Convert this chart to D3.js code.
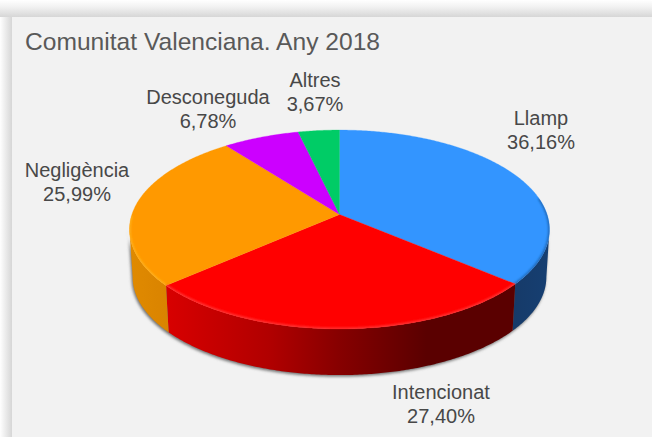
<!DOCTYPE html>
<html><head><meta charset="utf-8">
<script src="https://cdnjs.cloudflare.com/ajax/libs/d3/7.9.0/d3.min.js"></script>
<style>html,body{margin:0;padding:0;background:#fff;overflow:hidden}svg{display:block}</style>
</head><body><svg id="c" width="652" height="437"></svg>
<script>
const categories = ["Llamp","Intencionat","Negligència","Desconeguda","Altres"];
const values = [36.16,27.40,25.99,6.78,3.67];
const valueLabels = ["36,16%","27,40%","25,99%","6,78%","3,67%"];
const topColors = ["#3395ff","#ff0000","#ff9900","#cc00ff","#00cc66"];
const titleText = "Comunitat Valenciana. Any 2018";
const labelCenters = [[541,125],[441,399],[77,177],[208,104],[315,87]];

const W=652,H=437,panelX=12,panelY=17;
const svg=d3.select("#c");
const defs=svg.append("defs");
function grad(id,attrs,stops){
  const g=defs.append("linearGradient").attr("id",id);
  Object.entries(attrs).forEach(([k,v])=>g.attr(k,v));
  stops.forEach(s=>g.append("stop").attr("offset",s[0]).attr("stop-color",s[1]));
}
grad("frameL",{x1:0,x2:1,y1:0,y2:0},[[0,"#ffffff"],[0.35,"#f0f0f0"],[1,"#d6d6d6"]]);
grad("frameT",{x1:0,x2:0,y1:0,y2:1},[[0,"#ffffff"],[0.4,"#f2f2f2"],[1,"#d6d6d6"]]);
grad("sideRed",{gradientUnits:"userSpaceOnUse",x1:167,x2:513,y1:0,y2:0},
  [[0,"#d80000"],[0.3,"#b00000"],[0.5,"#860000"],[0.75,"#5a0000"],[1,"#5a0000"]]);
grad("sideOrange",{gradientUnits:"userSpaceOnUse",x1:130,x2:170,y1:0,y2:0},
  [[0,"#e08a00"],[1,"#d98300"]]);
grad("sideBlue",{gradientUnits:"userSpaceOnUse",x1:510,x2:550,y1:0,y2:0},
  [[0,"#163a68"],[1,"#163f72"]]);
defs.append("filter").attr("id","shadow").attr("x","-10%").attr("y","-10%").attr("width","120%").attr("height","120%")
  .append("feGaussianBlur").attr("stdDeviation",1.6);
defs.append("filter").attr("id","rim").attr("x","-10%").attr("y","-10%").attr("width","120%").attr("height","120%")
  .append("feGaussianBlur").attr("stdDeviation",1.3);

// frame and panel
svg.append("rect").attr("width",W).attr("height",H).attr("fill","#fff");
svg.append("rect").attr("x",0).attr("y",0).attr("width",W).attr("height",panelY).attr("fill","url(#frameT)");
svg.append("rect").attr("x",0).attr("y",panelY).attr("width",panelX).attr("height",H-panelY).attr("fill","url(#frameL)");
svg.append("rect").attr("x",panelX).attr("y",panelY).attr("width",W-panelX).attr("height",H-panelY).attr("fill","#f2f2f2");

// perspective projection of the unit disc on to the page
const k=0.151, cx=339.5, A=207.6, B=97.2, topY=214.5, botY=262.3, botScale=0.985;
const project=(a,y0,s)=>{
  const u=Math.sin(a), v=-Math.cos(a), w=1-k*v;
  return [cx+s*A*u/w, y0+s*B*v/w];
};
const pie=d3.pie().sort(null).startAngle(0).endAngle(2*Math.PI);
const arcs=pie(values);
const line=d3.line();
const samples=(a,b)=>{
  const n=Math.max(2,Math.ceil((b-a)/0.01));
  return d3.range(n+1).map(i=>a+(b-a)*i/n);
};
const rimPts=(a,b,y0,s)=>samples(a,b).map(t=>project(t,y0,s));

// visible wall runs between the two silhouette tangents of the disc
const tanR=Math.acos(-k), tanL=2*Math.PI-tanR;
const wallPath=(a,b)=>{
  const s=Math.max(a,tanR), e=Math.min(b,tanL);
  return line([...rimPts(s,e,topY,1),...rimPts(s,e,botY,botScale).reverse()])+"Z";
};

// drop shadow under the base
svg.append("path").attr("d",wallPath(0,2*Math.PI)).attr("fill","#6e6e6e")
  .attr("transform","translate(-1,1.5)").attr("filter","url(#shadow)");

// side walls
const sideFills=["url(#sideBlue)","url(#sideRed)","url(#sideOrange)",null,null];
svg.append("g").selectAll("path").data(arcs.filter((d,i)=>sideFills[i])).join("path")
  .attr("d",d=>wallPath(d.startAngle,d.endAngle))
  .attr("fill",d=>sideFills[d.index]);

// top face
const apex=[cx,topY];
svg.append("g").selectAll("path").data(arcs).join("path")
  .attr("d",d=>line([apex,...rimPts(d.startAngle,d.endAngle,topY,1)])+"Z")
  .attr("fill",d=>topColors[d.index]).attr("stroke",d=>topColors[d.index]).attr("stroke-width",0.3);

// soft bevel along the front of the rim
defs.append("clipPath").attr("id","topClip").append("path").attr("d",line(rimPts(0,2*Math.PI,topY,1))+"Z");
const rimColors=["#1f62ad","#ff3a3a","#ffb21a",null,null];
const rimStart=[1.4,0,0], rimEnd=[9,9,4.7];
const rimG=svg.append("g").attr("clip-path","url(#topClip)");
rimG.selectAll("path").data(arcs.filter((d,i)=>rimColors[i])).join("path")
  .attr("d",d=>line(rimPts(Math.max(d.startAngle,rimStart[d.index]),Math.min(d.endAngle,rimEnd[d.index]),topY,1)))
  .attr("fill","none").attr("stroke",d=>rimColors[d.index]).attr("stroke-width",2.4)
  .attr("filter","url(#rim)");

// text
const font="'Liberation Sans', sans-serif";
svg.append("text").attr("x",25).attr("y",50).attr("font-family",font).attr("font-size",24.6)
  .attr("fill","#595959").text(titleText);
const lab=svg.append("g").attr("font-family",font).attr("font-size",20).attr("fill","#484848").attr("text-anchor","middle");
categories.forEach((c,i)=>{
  const [x,y]=labelCenters[i];
  const t=lab.append("text").attr("x",x).attr("y",y);
  t.append("tspan").attr("x",x).text(c);
  t.append("tspan").attr("x",x).attr("dy",24).text(valueLabels[i]);
});
</script></body></html>
